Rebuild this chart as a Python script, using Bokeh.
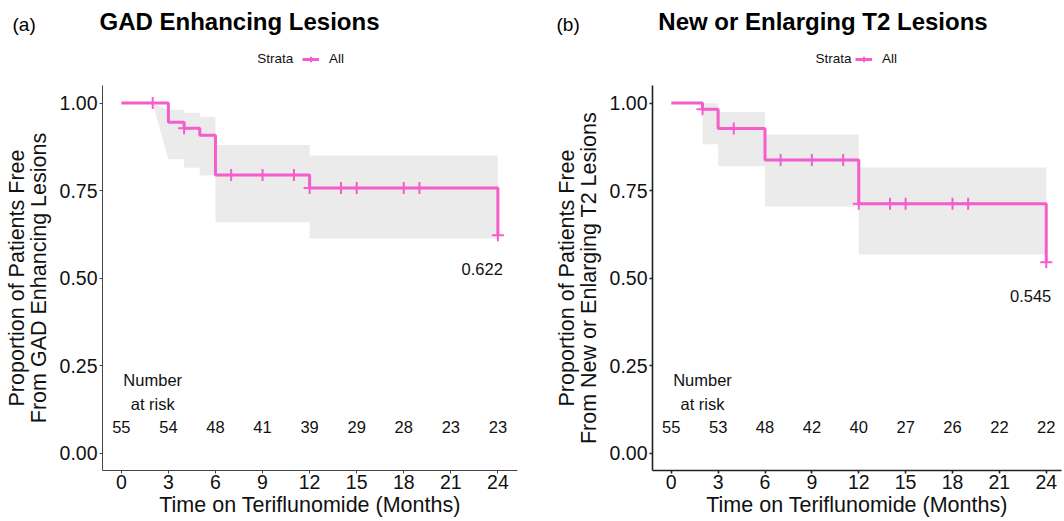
from bokeh.plotting import figure
from bokeh.layouts import row, column
from bokeh.models import (Range1d, FixedTicker, PrintfTickFormatter,
                          Legend, LegendItem)
from bokeh.embed import file_html
from bokeh.resources import INLINE
from bokeh.core.properties import value

FONT = "Liberation Sans"
PINK = "#F45DCB"
BAND = "#EBEBEB"

month_ticks = [0, 3, 6, 9, 12, 15, 18, 21, 24]
prop_ticks = [0.0, 0.25, 0.5, 0.75, 1.0]

# ---- Panel (a): GAD enhancing lesions ----
gad_event_t = [0, 3, 4, 5, 6, 12, 24]
gad_surv = [1.0, 0.945, 0.928, 0.908, 0.794, 0.757, 0.622]
gad_censor_t = [2, 4, 7, 9, 11, 12, 14, 15, 18, 19, 24]
gad_band_start_t = [2]
gad_band_t = [3, 4, 5, 6, 12, 24]
gad_upper = [0.981, 0.972, 0.960, 0.880, 0.850]
gad_lower = [0.839, 0.815, 0.793, 0.659, 0.613]
gad_at_risk = [55, 54, 48, 41, 39, 29, 28, 23, 23]
gad_final_label = "0.622"

# ---- Panel (b): new or enlarging T2 lesions ----
t2_event_t = [0, 2, 3, 6, 12, 24]
t2_surv = [1.0, 0.982, 0.927, 0.837, 0.712, 0.545]
t2_censor_t = [2, 4, 7, 9, 11, 12, 14, 15, 18, 19, 24]
t2_band_start_t = []
t2_band_t = [2, 3, 6, 12, 24]
t2_upper = [0.999, 0.974, 0.910, 0.816]
t2_lower = [0.882, 0.819, 0.704, 0.567]
t2_at_risk = [55, 53, 48, 42, 40, 27, 26, 22, 22]
t2_final_label = "0.545"

panel_tags = ["(a)", "(b)"]
panel_titles = ["GAD Enhancing Lesions", "New or Enlarging T2 Lesions"]

HH = 85           # header height (page y of frame top)
FH = 385          # frame height
LEFT_B = 102      # left border of each panel
LEFT_FW = 415
LEFT_RB = 33
W1 = LEFT_B + LEFT_FW + LEFT_RB
RIGHT_FW = 409
RIGHT_RB = 2
W2 = LEFT_B + RIGHT_FW + RIGHT_RB
WT = W1 + W2


def surv_at(t, ev_t, surv):
    v = surv[0]
    for et, s in zip(ev_t, surv):
        if et <= t:
            v = s
    return v


def band_xy(start_t, bt, up, lo, s0):
    xs, ys1, ys2 = [], [], []
    for t in start_t:
        xs.append(t); ys1.append(s0); ys2.append(s0)
    for i in range(len(up)):
        xs += [bt[i], bt[i + 1]]
        ys1 += [up[i], up[i]]
        ys2 += [lo[i], lo[i]]
    return xs, ys1, ys2


def make_header():
    h = figure(width=WT, height=HH, x_range=Range1d(0, WT),
               y_range=Range1d(0, HH), output_backend="svg",
               toolbar_location=None, x_axis_type=None, y_axis_type=None,
               min_border=0)
    h.outline_line_color = None
    h.xgrid.visible = False
    h.ygrid.visible = False
    title_cx = [239, 822.5]
    tag_x = [12, 556]
    strata_x = [256.7, 815]
    legend_x = [302, 855]
    # header data coords = page pixels (y measured up from header bottom)
    h.text(x=title_cx, y=[HH - 21] * 2, text=panel_titles,
           text_font=value(FONT), text_font_size="24px",
           text_font_style="bold", text_align="center",
           text_baseline="middle", text_color="#000000")
    h.text(x=tag_x, y=[HH - 23.5] * 2, text=panel_tags,
           text_font=value(FONT), text_font_size="19px", text_align="left",
           text_baseline="middle", text_color="#000000")
    h.text(x=strata_x, y=[HH - 58] * 2, text=["Strata"] * 2,
           text_font=value(FONT), text_font_size="13.5px",
           text_align="left", text_baseline="middle", text_color="#111111")
    # dummy renderers (outside the visible range) only feed the legend swatch
    lr = h.line(x=[-20, -10], y=[-20, -20], line_color=PINK, line_width=3)
    sr = h.scatter(x=[-20], y=[-20], marker="cross", size=12,
                   line_color=PINK, line_width=2)
    for lx in legend_x:
        legend = Legend(items=[LegendItem(label="All", renderers=[lr, sr])],
                        location=(lx, 19), orientation="horizontal",
                        glyph_width=17, glyph_height=14, label_height=14,
                        label_standoff=10, label_text_font=FONT,
                        label_text_font_size="13.5px",
                        label_text_color="#111111", padding=0, margin=0,
                        spacing=0, border_line_color=None,
                        background_fill_alpha=0)
        h.add_layout(legend)
    return h


def make_panel(ylabel, ev_t, surv, cens_t, bstart, bt, up, lo, at_risk,
               final_label, final_y, frame_w, x_end, right_b, axis_w, axis_c):
    p = figure(frame_width=frame_w, frame_height=FH,
               x_range=Range1d(-1.2, x_end), y_range=Range1d(-0.05, 1.05),
               output_backend="svg", toolbar_location=None,
               min_border_left=LEFT_B, min_border_right=right_b,
               min_border_top=0, min_border_bottom=0)
    p.outline_line_color = None
    p.xgrid.visible = False
    p.ygrid.visible = False

    bx, by1, by2 = band_xy(bstart, bt, up, lo, surv[0])
    p.varea(x=bx, y1=by2, y2=by1, fill_color=BAND, fill_alpha=1.0)

    p.step(x=ev_t, y=surv, mode="after", line_color=PINK, line_width=3)
    cy = [surv_at(t, ev_t, surv) for t in cens_t]
    p.scatter(x=cens_t, y=cy, marker="cross", size=12, line_color=PINK,
              line_width=2)

    # number at risk
    p.text(x=month_ticks, y=[0.075] * len(month_ticks),
           text=[str(v) for v in at_risk], text_font=value(FONT),
           text_font_size="16.5px", text_align="center",
           text_baseline="middle", text_color="#111111")
    p.text(x=[2, 2], y=[0.21, 0.14], text=["Number", "at risk"],
           text_font=value(FONT), text_font_size="16.5px",
           text_align="center", text_baseline="middle", text_color="#111111")
    p.text(x=[23], y=[final_y], text=[final_label], text_font=value(FONT),
           text_font_size="16.5px", text_align="center",
           text_baseline="middle", text_color="#111111")

    for ax in (p.xaxis[0], p.yaxis[0]):
        ax.axis_line_color = axis_c
        ax.axis_line_width = axis_w
        ax.major_tick_line_color = axis_c
        ax.major_tick_line_width = axis_w
        ax.major_tick_out = 3
        ax.major_tick_in = 0
        ax.minor_tick_line_color = None
        ax.major_label_text_font = FONT
        ax.major_label_text_font_size = "19.5px"
        ax.major_label_text_color = "#111111"
        ax.axis_label_text_font = FONT
        ax.axis_label_text_font_style = "normal"
        ax.axis_label_text_color = "#111111"
        ax.axis_label_text_font_size = "21.5px"

    p.xaxis[0].ticker = FixedTicker(ticks=month_ticks)
    p.xaxis[0].axis_label = "Time on Teriflunomide (Months)"
    p.xaxis[0].major_label_standoff = 1
    p.xaxis[0].axis_label_standoff = 1

    p.yaxis[0].ticker = FixedTicker(ticks=prop_ticks)
    p.yaxis[0].formatter = PrintfTickFormatter(format="%.2f")
    p.yaxis[0].axis_label = ylabel
    p.yaxis[0].axis_label_text_line_height = 0.9
    p.yaxis[0].major_label_standoff = 2
    p.yaxis[0].axis_label_standoff = 6
    return p


p1 = make_panel("Proportion of Patients Free\nFrom GAD Enhancing Lesions",
                gad_event_t, gad_surv, gad_censor_t, gad_band_start_t,
                gad_band_t, gad_upper, gad_lower, gad_at_risk,
                gad_final_label, 0.525, LEFT_FW,
                -1.2 + LEFT_FW / 15.69, LEFT_RB, 1.0, "#444444")

p2 = make_panel("Proportion of Patients Free\nFrom New or Enlarging T2 Lesions",
                t2_event_t, t2_surv, t2_censor_t, t2_band_start_t,
                t2_band_t, t2_upper, t2_lower, t2_at_risk,
                t2_final_label, 0.45, RIGHT_FW,
                -1.2 + RIGHT_FW / 15.625, RIGHT_RB, 1.6, "#222222")

layout = column(make_header(), row(p1, p2))
open("out.html", "w").write(file_html(layout, INLINE))
